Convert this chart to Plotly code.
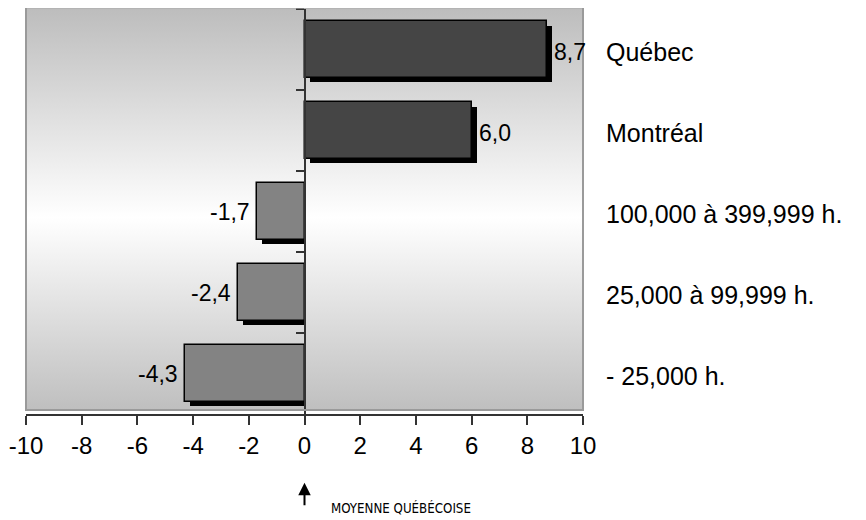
import plotly.graph_objects as go

# data
categories = ["Québec", "Montréal", "100,000 à 399,999 h.", "25,000 à 99,999 h.", "- 25,000 h."]
values = [8.7, 6.0, -1.7, -2.4, -4.3]
x_ticks = [-10, -8, -6, -4, -2, 0, 2, 4, 6, 8, 10]
x_tick_labels = ["-10", "-8", "-6", "-4", "-2", "0", "2", "4", "6", "8", "10"]

positions = list(range(len(categories)))
shadow_dx = 0.18  # ~5px to the right
shadow_dy = 0.055  # ~4px down (y axis is reversed)

fig = go.Figure()

# gray -> white -> gray background of the plot box (on the base axes, so it sits under the bars)
fig.add_trace(go.Scatter(
    x=[-10, 10, 10, -10, -10], y=[-0.5, -0.5, 4.45, 4.45, -0.5],
    mode="none", fill="toself",
    fillgradient=dict(type="vertical",
                      colorscale=[[0, "#bfbfbf"], [0.48, "#ffffff"], [1, "#bdbdbd"]]),
    hoverinfo="skip", showlegend=False))

# black drop shadows behind the bars
shadow_base = [shadow_dx if v > 0 else v + shadow_dx for v in values]
shadow_len = [v if v > 0 else -(v + shadow_dx) for v in values]
fig.add_trace(go.Bar(
    y=[p + shadow_dy for p in positions], x=shadow_len, base=shadow_base,
    orientation="h", width=0.7, marker_color="black", marker_line_width=0,
    xaxis="x2", yaxis="y2", hoverinfo="skip", showlegend=False))

# the bars themselves
colors = ["#454545" if v > 0 else "#838383" for v in values]
fig.add_trace(go.Bar(
    y=positions, x=values, orientation="h", width=0.7,
    marker=dict(color=colors, line=dict(color="black", width=1.5)),
    xaxis="x2", yaxis="y2", showlegend=False))

annotations = []
for p, v, name in zip(positions, values, categories):
    txt = f"{v:.1f}".replace(".", ",")
    if v > 0:
        annotations.append(dict(x=v + shadow_dx, xref="x2", y=p, yref="y2", text=txt,
                                showarrow=False, xanchor="left", xshift=0, yshift=-2,
                                font=dict(size=23, color="black")))
    else:
        annotations.append(dict(x=v, xref="x2", y=p, yref="y2", text=txt, showarrow=False,
                                xanchor="right", xshift=-5,
                                font=dict(size=23, color="black")))
    # category labels to the right of the box
    annotations.append(dict(x=1, xref="paper", y=p, yref="y2", text=name, showarrow=False,
                            xanchor="left", xshift=21, yshift=-2,
                            font=dict(size=25, color="black")))

# arrow pointing at the zero line
annotations.append(dict(x=0, xref="x2", y=-0.17, yref="paper", text="", showarrow=True,
                        arrowhead=2, arrowsize=1.25, arrowwidth=2, arrowcolor="black",
                        ax=0, ay=24))
annotations.append(dict(x=0, xref="x2", y=-0.232, yref="paper", text="MOYENNE QUÉBÉCOISE",
                        showarrow=False, xanchor="left", yanchor="middle", xshift=24,
                        font=dict(size=13.2, color="black",
                                  family="Liberation Sans Narrow, DejaVu Sans Condensed, Liberation Sans")))

# the page body adds 8px on the left/top, margins make up for it
fig.update_layout(
    width=866, height=520,
    margin=dict(l=18, r=291, t=1, b=114),
    paper_bgcolor="white", plot_bgcolor="white",
    font=dict(family="Liberation Sans, Arial, sans-serif", color="black"),
    barmode="overlay", bargap=0,
    showlegend=False,
    annotations=annotations,
    shapes=[dict(type="rect", xref="paper", yref="paper", x0=0, x1=1, y0=0.01, y1=1.003,
                 line=dict(color="#9a9a9a", width=2), layer="above")],
    xaxis=dict(range=[-10, 10], visible=False),
    yaxis=dict(range=[4.5, -0.5], visible=False),
    xaxis2=dict(overlaying="x", anchor="y2", range=[-10, 10],
                tickvals=x_ticks, ticktext=x_tick_labels,
                showline=True, linecolor="#333333", linewidth=2,
                ticks="outside", ticklen=9, tickwidth=1.5, tickcolor="#333333",
                tickfont=dict(size=24), showgrid=False, zeroline=False),
    # the middle axis at x=0 with small ticks between the categories
    yaxis2=dict(overlaying="y", range=[4.5, -0.5], anchor="free", position=0.5, side="left",
                tickvals=[-0.5, 0.5, 1.5, 2.5, 3.5], showticklabels=False,
                showline=True, linecolor="#333333", linewidth=2,
                ticks="outside", ticklen=8, tickwidth=1.5, tickcolor="#333333",
                showgrid=False, zeroline=False),
)

fig.write_html("out.html")
